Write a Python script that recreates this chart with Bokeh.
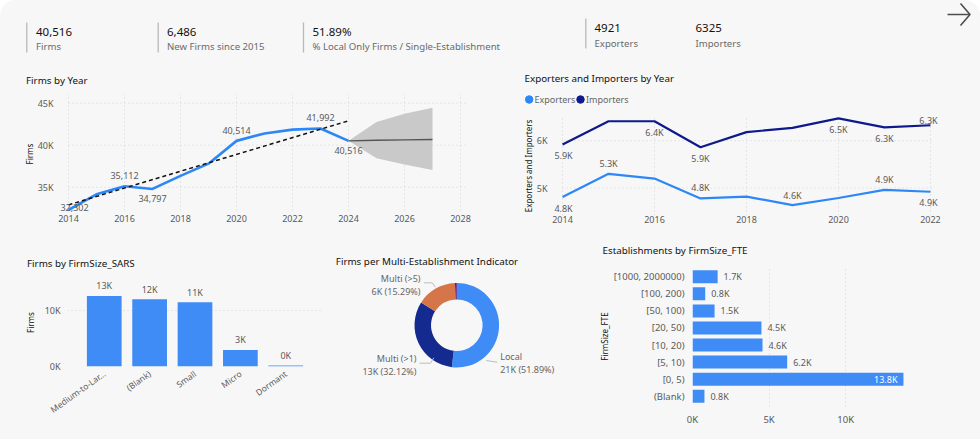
from math import pi
import numpy as np
from bokeh.core.properties import value
from bokeh.embed import file_html
from bokeh.layouts import column, row
from bokeh.models import FactorRange, FixedTicker, Label, Range1d, Title
from bokeh.plotting import figure
from bokeh.resources import INLINE

# ---------- data ----------
kpi_values = ["40,516", "6,486", "51.89%", "4921", "6325"]
kpi_labels = ["Firms", "New Firms since 2015", "% Local Only Firms / Single-Establishment",
              "Exporters", "Importers"]

firm_years = [2014, 2015, 2016, 2017, 2018, 2019, 2020, 2021, 2022, 2023, 2024]
firm_values = [32302, 34150, 35112, 34797, 36350, 37800, 40514, 41400, 41850, 41992, 40516]
trend_years = [2014, 2024]
trend_values = [32900, 42900]
forecast_years = [2024, 2025, 2026, 2027]
forecast_mid = [40516, 40580, 40630, 40680]
forecast_upper = [40516, 42750, 43750, 44450]
forecast_lower = [40516, 38450, 37700, 37050]
firm_label_years = [2014, 2016, 2017, 2020, 2023, 2024]
firm_xticks = [2014, 2016, 2018, 2020, 2022, 2024, 2026, 2028]
firm_yticks = [35000, 40000, 45000]
firm_ytick_labels = ["35K", "40K", "45K"]

trade_names = ["Exporters", "Importers"]
trade_years = [2014, 2015, 2016, 2017, 2018, 2019, 2020, 2021, 2022]
exporters = [4810, 5300, 5200, 4780, 4820, 4640, 4790, 4960, 4921]
importers = [5920, 6410, 6410, 5860, 6180, 6270, 6470, 6280, 6325]
exporter_label_years = [2014, 2015, 2017, 2019, 2021, 2022]
importer_label_years = [2014, 2016, 2017, 2020, 2021, 2022]
exporter_labels = ["4.8K", "5.3K", "4.8K", "4.6K", "4.9K", "4.9K"]
importer_labels = ["5.9K", "6.4K", "5.9K", "6.5K", "6.3K", "6.3K"]
trade_xticks = [2014, 2016, 2018, 2020, 2022]
trade_yticks = [5000, 6000]
trade_ytick_labels = ["5K", "6K"]

sars_sizes = ["Medium-to-Lar...", "(Blank)", "Small", "Micro", "Dormant"]
sars_firms = [12680, 12070, 11540, 2970, 180]
sars_labels = ["13K", "12K", "11K", "3K", "0K"]

multi_names = ["Local", "Multi (>1)", "Multi (>5)", "Other"]
multi_shares = [51.89, 32.12, 15.29, 0.70]
multi_counts = ["21K", "13K", "6K", ""]

fte_sizes = ["[1000, 2000000)", "[100, 200)", "[50, 100)", "[20, 50)", "[10, 20)", "[5, 10)", "[0, 5)", "(Blank)"]
fte_counts = [1640, 830, 1440, 4500, 4570, 6180, 13770, 780]
fte_labels = ["1.7K", "0.8K", "1.5K", "4.5K", "4.6K", "6.2K", "13.8K", "0.8K"]

# ---------- style ----------
BG = "#f7f7f7"
FONT = "Noto Sans"
BLUE = "#2c87f7"
NAVY = "#0e1a8c"
BAR = "#3f8cf6"
TXT = "#5a5a5a"
DARK = "#111111"
GRID = dict(line_color="#d2d2d2", line_width=1, line_dash="1 3")


def base(w, h, left, right, top, bottom, css=None, **kw):
    p = figure(width=w, height=h, output_backend="svg", toolbar_location=None, frame_align=False,
               min_border_left=left, min_border_right=right, min_border_top=top, min_border_bottom=bottom,
               background_fill_color=BG, border_fill_color=BG, outline_line_color=None,
               styles=css or {"background-color": BG}, **kw)
    return p


def title(p, text, offset, standoff):
    p.title = Title(text=text, text_font=FONT, text_font_size="9.8px", text_font_style="normal",
                    text_color=DARK, offset=offset, standoff=standoff)


def style_axes(p, standoff_y=15, standoff_x=4, label_standoff=0, tick_size="9px"):
    for ax in list(p.xaxis) + list(p.yaxis):
        ax.axis_line_color = None
        ax.major_tick_line_color = None
        ax.minor_tick_line_color = None
        ax.major_tick_out = 0
        ax.major_tick_in = 0
        ax.major_label_text_font = FONT
        ax.major_label_text_font_size = tick_size
        ax.major_label_text_color = TXT
        ax.axis_label_text_font = FONT
        ax.axis_label_text_font_size = "8px"
        ax.axis_label_text_font_style = "normal"
        ax.axis_label_text_color = DARK
        ax.axis_label_standoff = label_standoff
    for ax in p.xaxis:
        ax.major_label_standoff = standoff_x
    for ax in p.yaxis:
        ax.major_label_standoff = standoff_y
    for g in list(p.xgrid) + list(p.ygrid):
        g.grid_line_color = GRID["line_color"]
        g.grid_line_dash = [1, 3]
        g.grid_line_width = GRID["line_width"]


def grid_lines(p, xticks, yticks, x0, x1, y0, y1):
    """Dotted grid that stops short of the frame, so labels beyond the grid stay visible."""
    p.grid.visible = False
    p.segment(xticks, [y0] * len(xticks), xticks, [y1] * len(xticks), **GRID)
    p.segment([x0] * len(yticks), yticks, [x1] * len(yticks), yticks, **GRID)


def labels(p, x, y, text, dx, dy, align="center", color=TXT, size="9px"):
    n = len(x)
    dx = dx if isinstance(dx, list) else [dx] * n
    dy = dy if isinstance(dy, list) else [dy] * n
    for i in range(n):
        p.add_layout(Label(x=x[i], y=y[i], text=text[i], x_offset=dx[i], y_offset=dy[i],
                           text_font=FONT, text_font_size=size, text_color=color,
                           text_align=align, text_baseline="middle"))


# ---------- KPI strip ----------
strip = base(980, 64, 0, 0, 0, 0, x_range=Range1d(0, 980), y_range=Range1d(64, 0),
             css={"background-color": BG, "border-radius": "16px 16px 0 0", "overflow": "hidden"})
strip.axis.visible = False
strip.grid.visible = False
strip.segment([26.3, 157.7, 303, 585.3], [22, 22, 22, 18], [26.3, 157.7, 303, 585.3], [52, 52, 52, 48],
              line_color="#b9b9b9", line_width=1.3)
kx = [35.5, 166.5, 312, 594, 695]
vy = [31, 31, 31, 27, 27]
ly = [46, 46, 46, 43, 43]
strip.text(kx, vy, text=kpi_values, text_font=value(FONT), text_font_size="11.5px", text_color="#111111",
           text_baseline="middle")
strip.text(kx, ly, text=kpi_labels, text_font=value(FONT), text_font_size="9.6px", text_color="#6a6a6a",
           text_baseline="middle")
strip.line([947, 969], [14, 14], line_color="#4d4d4d", line_width=1.6)
strip.line([960, 969.5, 960], [3, 14, 25], line_color="#4d4d4d", line_width=1.6)

# ---------- Firms by Year ----------
f1 = base(512, 168, 54, 45, 29, 18, x_range=Range1d(2013.5, 2028.25), y_range=Range1d(31754, 46150),
          y_axis_label="Firms")
title(f1, "Firms by Year", -28.5, 14)
style_axes(f1, standoff_y=1, standoff_x=0)
f1.xaxis.ticker = FixedTicker(ticks=firm_xticks)
f1.yaxis.ticker = FixedTicker(ticks=firm_yticks)
f1.yaxis.major_label_overrides = dict(zip(firm_yticks, firm_ytick_labels))
grid_lines(f1, firm_xticks, firm_yticks, 2014, 2028.25, 32230, 46150)
f1.varea(forecast_years, forecast_lower, forecast_upper, fill_color="#c9c9c9")
f1.line(forecast_years, forecast_mid, line_color="#555555", line_width=1.4)
f1.line(firm_years, firm_values, line_color=BLUE, line_width=2.6)
f1.line(trend_years, trend_values, line_color="#111111", line_width=1.5, line_dash=[4, 3])
fl_y = [firm_values[firm_years.index(y)] for y in firm_label_years]
labels(f1, firm_label_years, fl_y, [f"{v:,}" for v in fl_y], [6, 0, 0, 0, 0, 0], [2, 11, -10, 10, 11, -10])

# ---------- Exporters and Importers: header with title and legend ----------
head = base(468, 46, 0, 0, 24, 0, x_range=Range1d(512, 980), y_range=Range1d(110, 88))
title(head, "Exporters and Importers by Year", 12, 7)
head.axis.visible = False
head.grid.visible = False
head.scatter([528.7, 580], [99, 99], size=7.5, color=[BLUE, NAVY])
head.text([534, 585.5], [99, 99], text=trade_names, text_font=value(FONT), text_font_size="9px",
          text_color="#666666", text_baseline="middle")

f2 = base(468, 122, 40, 40, 6, 17, x_range=Range1d(2013.782, 2022.218), y_range=Range1d(4420, 6510),
          y_axis_label="Exporters and Importers")
style_axes(f2, standoff_y=5, standoff_x=0)
f2.xaxis.ticker = FixedTicker(ticks=trade_xticks)
f2.yaxis.ticker = FixedTicker(ticks=trade_yticks)
f2.yaxis.major_label_overrides = dict(zip(trade_yticks, trade_ytick_labels))
grid_lines(f2, trade_xticks, trade_yticks, 2014, 2022.02, 4420, 6510)
f2.line(trade_years, exporters, line_color=BLUE, line_width=2.2)
f2.line(trade_years, importers, line_color=NAVY, line_width=2.2)
ex_y = [exporters[trade_years.index(y)] for y in exporter_label_years]
im_y = [importers[trade_years.index(y)] for y in importer_label_years]
labels(f2, exporter_label_years, ex_y, exporter_labels, [1, 0, 0, 0, 0, -2], [-11, 10, 11, 10, 10, -11])
labels(f2, importer_label_years, im_y, importer_labels, [1, 0, 0, 0, 0, -2], [-11, -11, -11, -11, -11, 5])

# ---------- Firms by FirmSize_SARS ----------
f3 = base(330, 207, 67, 8, 46, 73, x_range=FactorRange(factors=sars_sizes, range_padding=0.31, range_padding_units="absolute"),
          y_range=Range1d(0, 15800), y_axis_label="Firms")
title(f3, "Firms by FirmSize_SARS", -40.5, 18)
style_axes(f3, standoff_y=7, standoff_x=6, label_standoff=6)
f3.xgrid.visible = False
f3.yaxis.ticker = FixedTicker(ticks=[0, 10000])
f3.yaxis.major_label_overrides = {0: "0K", 10000: "10K"}
f3.xaxis.major_label_orientation = 0.62
f3.xaxis.major_label_text_font_size = "8.5px"
f3.vbar(x=sars_sizes, top=sars_firms, width=0.765, fill_color=BAR, line_color=None)
labels(f3, [i + 0.5 for i in range(len(sars_sizes))], sars_firms, sars_labels, 0, 10)

# ---------- Donut ----------
cx, cy = 456.3, 324.7
f4 = base(260, 207, 0, 0, 36, 0, x_range=Range1d(330 - cx, 590 - cx), y_range=Range1d(cy - 439, cy - 268))
title(f4, "Firms per Multi-Establishment Indicator", 5.3, 2)
f4.axis.visible = False
f4.grid.visible = False
cum = np.cumsum([0] + multi_shares) / 100
f4.annular_wedge(x=0, y=0, inner_radius=25.8, outer_radius=42.3, inner_radius_units="screen", outer_radius_units="screen",
                 start_angle=list(pi / 2 - 2 * pi * cum[:-1]), end_angle=list(pi / 2 - 2 * pi * cum[1:]),
                 direction="clock", fill_color=[BAR, "#142a8f", "#d5754a", "#5b1a8c"], line_color=None)
f4.multi_line([[29.4, 40.4], [-23, -26.3, -37.3], [-21.3, -24.6, -33]],
              [[-35.3, -37], [-32.6, -38, -38], [38, 42.4, 42.4]], line_color="#bdbdbd", line_width=1)
donut_txt = [f"{multi_counts[i]} ({multi_shares[i]:.2f}%)" for i in range(3)]
labels(f4, [499.7 - cx], [cy - 356.3], [multi_names[0]], 0, 0, align="left", color="#666666")
labels(f4, [499.7 - cx], [cy - 369.3], [donut_txt[0]], 0, 0, align="left", color="#666666")
labels(f4, [416 - cx, 416 - cx, 420 - cx, 420 - cx], [cy - 358.3, cy - 371.3, cy - 278, cy - 290.7],
       [multi_names[1], donut_txt[1], multi_names[2], donut_txt[2]], 0, 0, align="right", color="#666666")

# ---------- Establishments by FirmSize_FTE ----------
f5 = base(390, 207, 102, 70, 30, 33, x_range=Range1d(0, 218 / 15.32 * 1000),
          y_range=FactorRange(factors=fte_sizes[::-1], range_padding=0.1, range_padding_units="absolute"),
          y_axis_label="FirmSize_FTE")
title(f5, "Establishments by FirmSize_FTE", -90, 19)
style_axes(f5, standoff_y=8, standoff_x=6, label_standoff=1, tick_size="9.5px")
f5.ygrid.visible = False
f5.xaxis.ticker = FixedTicker(ticks=[0, 5000, 10000])
f5.xaxis.major_label_overrides = {0: "0K", 5000: "5K", 10000: "10K"}
f5.hbar(y=fte_sizes, right=fte_counts, height=0.76, fill_color=BAR, line_color=None)
n_fte = len(fte_sizes)
fte_pos = [n_fte - 1 - i + 0.5 for i in range(n_fte)]
out = [i for i, v in enumerate(fte_counts) if v < 10000]
ins = [i for i, v in enumerate(fte_counts) if v >= 10000]
labels(f5, [fte_counts[i] for i in out], [fte_pos[i] for i in out], [fte_labels[i] for i in out], 6, 0, align="left")
labels(f5, [fte_counts[i] for i in ins], [fte_pos[i] for i in ins], [fte_labels[i] for i in ins], -6, 0, align="right", color="#ffffff")

page = column(strip, row(f1, column(head, f2, spacing=0), spacing=0), row(f3, f4, f5, spacing=0), spacing=0)
open("out.html", "w").write(file_html(page, INLINE))
